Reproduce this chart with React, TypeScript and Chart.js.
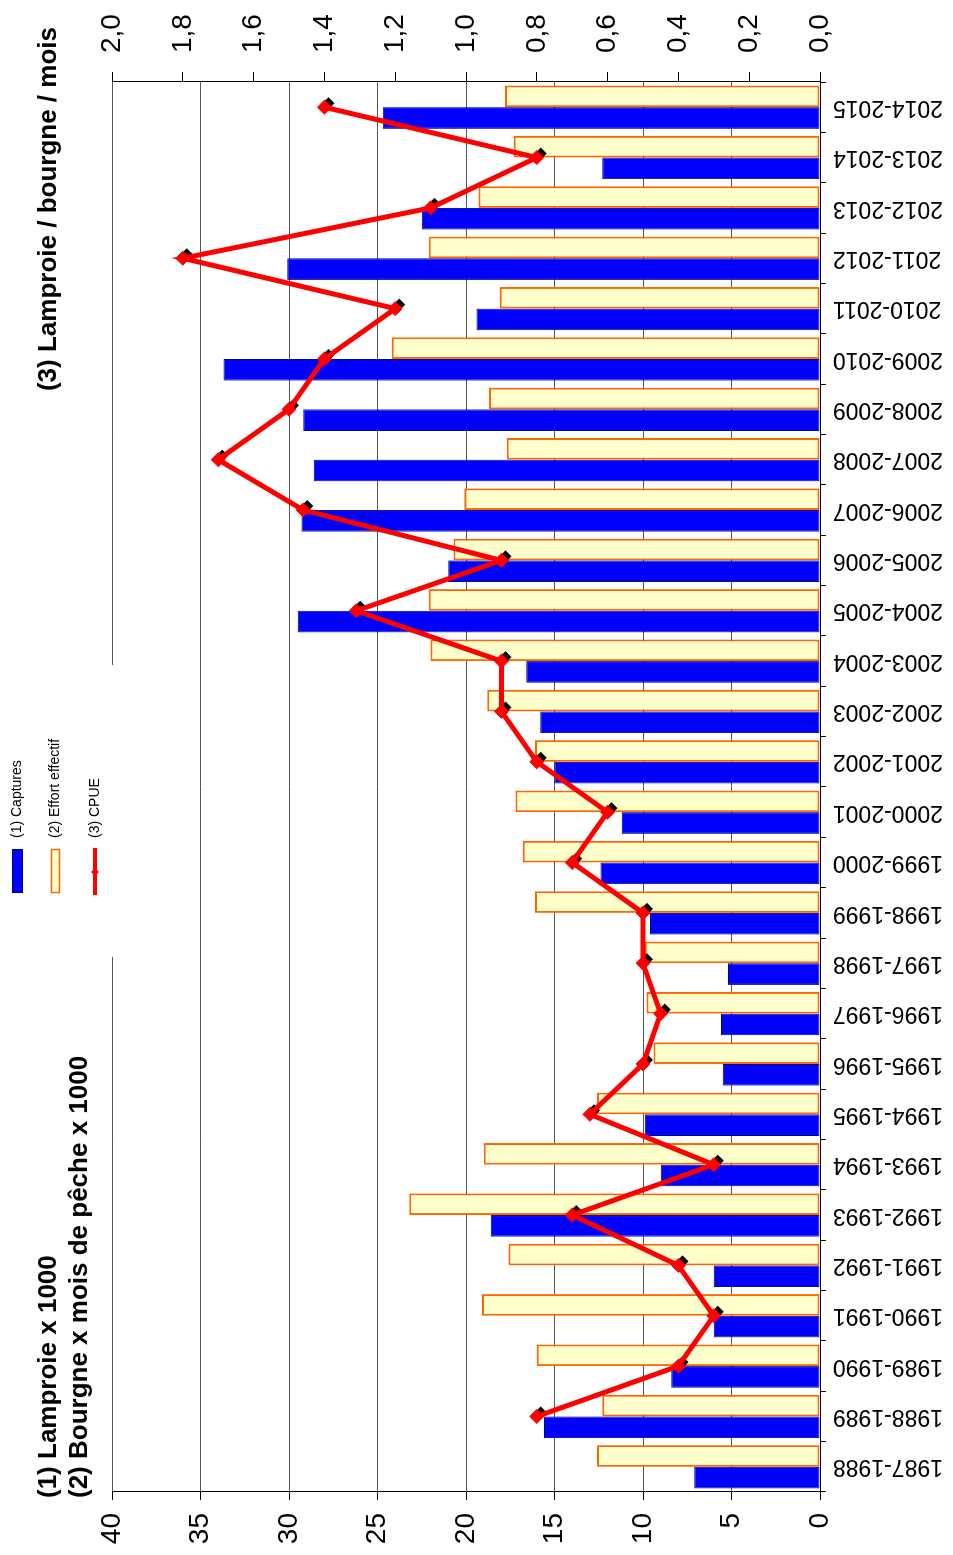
import React, { useEffect, useRef } from "react";
import { Chart, registerables } from "chart.js";
Chart.register(...registerables);

const categories = [
  "1987-1988", "1988-1989", "1989-1990", "1990-1991", "1991-1992", "1992-1993", "1993-1994",
  "1994-1995", "1995-1996", "1996-1997", "1997-1998", "1998-1999", "1999-2000", "2000-2001",
  "2001-2002", "2002-2003", "2003-2004", "2004-2005", "2005-2006", "2006-2007", "2007-2008",
  "2008-2009", "2009-2010", "2010-2011", "2011-2012", "2012-2013", "2013-2014", "2014-2015",
];
const captures = [7.1, 15.6, 8.4, 6.0, 6.0, 18.6, 9.0, 9.9, 5.5, 5.6, 5.2, 9.6, 12.4, 11.2, 15.0, 15.8, 16.6, 29.5, 21.0, 29.3, 28.6, 29.2, 33.7, 19.4, 30.1, 22.5, 12.3, 24.7];
const effort = [12.6, 12.3, 16.0, 19.1, 17.6, 23.2, 19.0, 12.6, 9.4, 9.8, 9.9, 16.1, 16.8, 17.2, 16.1, 18.8, 22.0, 22.1, 20.7, 20.1, 17.7, 18.7, 24.2, 18.1, 22.1, 19.3, 17.3, 17.8];
const cpue: (number | null)[] = [null, 0.8, 0.4, 0.3, 0.4, 0.7, 0.3, 0.65, 0.5, 0.45, 0.5, 0.5, 0.7, 0.6, 0.8, 0.9, 0.9, 1.31, 0.9, 1.46, 1.7, 1.5, 1.4, 1.2, 1.8, 1.1, 0.8, 1.4];

const leftTitle = ["(1) Lamproie x 1000", "(2) Bourgne x mois de pêche x 1000"];
const rightTitle = "(3) Lamproie / bourgne / mois";
const legendLabels = ["(1) Captures", "(2) Effort effectif", "(3) CPUE"];

const FONT = "'Liberation Sans', Arial, sans-serif";

function diamond(ctx: CanvasRenderingContext2D, x: number, y: number, r: number) {
  ctx.beginPath();
  ctx.moveTo(x, y - r);
  ctx.lineTo(x + r, y);
  ctx.lineTo(x, y + r);
  ctx.lineTo(x - r, y);
  ctx.closePath();
  ctx.fill();
}

const shadowPlugin = {
  id: "shadowMarkers",
  beforeDatasetDraw(chart: any, args: any) {
    if (args.index !== 2) return;
    const meta = chart.getDatasetMeta(2);
    const ctx = chart.ctx as CanvasRenderingContext2D;
    ctx.save();
    ctx.fillStyle = "#000";
    meta.data.forEach((pt: any) => {
      if (pt.skip) return;
      diamond(ctx, pt.x + 4, pt.y + 4, 6);
    });
    ctx.restore();
  },
};

const decorPlugin = {
  id: "decor",
  afterDraw(chart: any) {
    const ctx = chart.ctx as CanvasRenderingContext2D;
    ctx.save();
    // titles
    ctx.fillStyle = "#000";
    ctx.font = `bold 26px ${FONT}`;
    ctx.textBaseline = "middle";
    ctx.textAlign = "left";
    ctx.fillText(leftTitle[0], 57, 49);
    ctx.fillText(leftTitle[1], 57, 80);
    ctx.textAlign = "right";
    ctx.fillText(rightTitle, 1528, 49);

    // legend
    ctx.fillStyle = "#fff";
    ctx.fillRect(598, 0, 292, 114);
    // item 1
    ctx.fillStyle = "#0000FF";
    ctx.fillRect(662, 12, 44, 11);
    ctx.strokeStyle = "#000080";
    ctx.lineWidth = 1;
    ctx.strokeRect(662.5, 12.5, 43, 10);
    // item 2
    ctx.fillStyle = "#FFFFCC";
    ctx.fillRect(662, 51, 44, 9);
    ctx.strokeStyle = "#FF6600";
    ctx.lineWidth = 1.5;
    ctx.strokeRect(662.5, 51.5, 43, 8);
    // item 3
    ctx.strokeStyle = "#FF0000";
    ctx.lineWidth = 4;
    ctx.beginPath();
    ctx.moveTo(660, 95);
    ctx.lineTo(707, 95);
    ctx.stroke();
    ctx.fillStyle = "#FF0000";
    diamond(ctx, 683, 95, 4);

    ctx.fillStyle = "#000";
    ctx.font = `14px ${FONT}`;
    ctx.textAlign = "left";
    ctx.textBaseline = "middle";
    ctx.fillText(legendLabels[0], 717, 17);
    ctx.fillText(legendLabels[1], 717, 55);
    ctx.fillText(legendLabels[2], 717, 95);
    ctx.restore();
  },
};

export default function App() {
  const ref = useRef<HTMLCanvasElement>(null);
  useEffect(() => {
    const chart = new Chart(ref.current!, {
      type: "bar",
      data: {
        labels: categories,
        datasets: [
          {
            type: "bar",
            label: legendLabels[0],
            data: captures,
            backgroundColor: "#0000FF",
            borderColor: "#000080",
            borderWidth: 1,
            borderSkipped: false,
            yAxisID: "y",
            order: 2,
            barPercentage: 1,
            categoryPercentage: 0.86,
          },
          {
            type: "bar",
            label: legendLabels[1],
            data: effort,
            backgroundColor: "#FFFFCC",
            borderColor: "#FF6600",
            borderWidth: 2,
            borderSkipped: false,
            yAxisID: "y",
            order: 2,
            barPercentage: 1,
            categoryPercentage: 0.86,
          },
          {
            type: "line",
            label: legendLabels[2],
            data: cpue,
            borderColor: "#FF0000",
            borderWidth: 5,
            backgroundColor: "#FF0000",
            pointStyle: "rectRot",
            pointRadius: 7,
            pointBackgroundColor: "#FF0000",
            pointBorderColor: "#FF0000",
            pointBorderWidth: 1,
            tension: 0,
            spanGaps: false,
            yAxisID: "y1",
            order: 0,
          },
        ],
      } as any,
      options: {
        responsive: false,
        animation: false,
        devicePixelRatio: 1,
        layout: { padding: { top: 112, left: 0, right: 0, bottom: 0 } },
        plugins: { legend: { display: false }, tooltip: { enabled: false }, title: { display: false } },
        scales: {
          x: {
            type: "category",
            offset: true,
            grid: { display: true, drawOnChartArea: false, drawTicks: true, tickLength: 6, offset: true, color: "#000", tickColor: "#000" },
            border: { display: true, color: "#000", width: 1 },
            ticks: {
              autoSkip: false,
              minRotation: 90,
              maxRotation: 90,
              padding: 7,
              color: "#000",
              font: { family: FONT, size: 23 },
            },
            afterFit(scale: any) { scale.height = 133; },
          },
          y: {
            position: "left",
            min: 0,
            max: 40,
            grid: { color: "#555", lineWidth: 1, tickLength: 8, tickColor: "#000" },
            border: { display: true, color: "#000", width: 1 },
            ticks: { stepSize: 5, padding: 13, color: "#000", font: { family: FONT, size: 28 } },
            afterFit(scale: any) { scale.width = 63; },
          },
          y1: {
            position: "right",
            min: 0,
            max: 2,
            grid: { drawOnChartArea: false, tickLength: 10, tickColor: "#000", color: "#000" },
            border: { display: true, color: "#000", width: 1 },
            ticks: {
              stepSize: 0.2,
              padding: 19,
              color: "#000",
              font: { family: FONT, size: 28 },
              callback: (v: any) => Number(v).toFixed(1).replace(".", ","),
            },
            afterFit(scale: any) { scale.width = 82; },
          },
        },
      } as any,
      plugins: [shadowPlugin, decorPlugin],
    });
    return () => chart.destroy();
  }, []);

  return (
    <div style={{ position: "fixed", left: 0, top: 0, width: 953, height: 1555, overflow: "hidden", background: "#fff" }}>
      <div
        style={{
          position: "absolute",
          left: 0,
          top: 0,
          width: 1555,
          height: 953,
          transformOrigin: "0 0",
          transform: "translate(0px, 1555px) rotate(-90deg)",
        }}
      >
        <canvas ref={ref} width={1555} height={953} style={{ width: 1555, height: 953, display: "block" }} />
      </div>
    </div>
  );
}
